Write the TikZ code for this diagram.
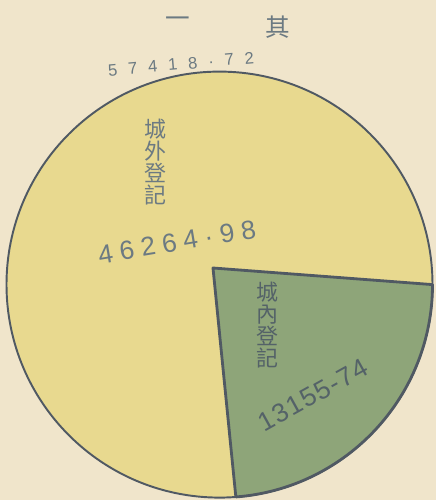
\documentclass[tikz,border=0pt]{standalone}
\usepackage{fontspec}
\newfontfamily\cjk{Noto Sans CJK TC}
\newfontfamily\hand{Liberation Sans}
\definecolor{paper}{RGB}{240,229,203}
\definecolor{pieyellow}{RGB}{232,217,143}
\definecolor{piegreen}{RGB}{142,165,121}
\definecolor{rim}{RGB}{80,89,99}
\definecolor{inkgrey}{RGB}{108,122,130}
\definecolor{inkdark}{RGB}{84,98,104}

\begin{document}
\begin{tikzpicture}[x=0.02cm,y=0.02cm]
\tikzstyle{ink}=[text=inkgrey, inner sep=0pt]
\tikzstyle{upright}=[ink, font=\cjk\fontsize{12.5}{12.5}\selectfont, align=center]
\tikzstyle{figures}=[ink, font=\hand\fontsize{15}{15}\selectfont]

\fill[paper] (0,0) rectangle (436,500);
\useasboundingbox (0,0) rectangle (436,500);

% the pie
\coordinate (centre) at (219.5,215.4);
\coordinate (apex) at (213,232);
\filldraw[fill=pieyellow, draw=rim, line width=1.1pt] (centre) circle[radius=213];
\filldraw[fill=piegreen, draw=rim, line width=1.6pt, line join=round]
  (apex) -- ([shift={(0:213)}]centre) arc[start angle=0, end angle=-85.6, radius=213] -- cycle;

% heading
\node[upright, font=\cjk\fontsize{14}{14}\selectfont] (yi) at (178,478) {一};
\node[upright, font=\cjk\fontsize{14}{14}\selectfont] (qi) at (278,473) {其};
\node[figures, font=\hand\fontsize{9.5}{9.5}\selectfont, rotate=5] (total) at (181,436)
  {\addfontfeature{LetterSpace=65}57418·72};

% labels
\node[upright] (outside) at (155,338) {城\\外\\登\\記};
\node[figures, rotate=9.5] (outsidesum) at (177,258) {\addfontfeature{LetterSpace=26}46264·98};
\node[upright, text=inkdark] (inside) at (267,175) {城\\內\\登\\記};
\node[figures, text=inkdark, rotate=29] (insidesum) at (313,105) {\addfontfeature{LetterSpace=5}13155-74};
\end{tikzpicture}
\end{document}
